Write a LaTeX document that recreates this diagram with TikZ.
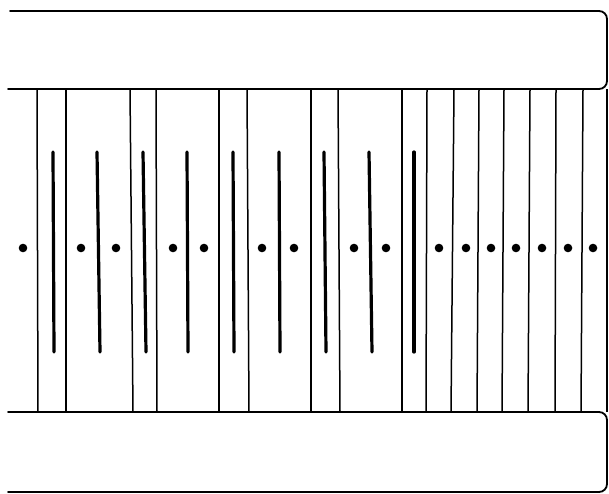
\documentclass[tikz,border=0pt]{standalone}
\begin{document}
\begin{tikzpicture}[x=1pt,y=-1pt,
  frame/.style={line width=1.8pt,line cap=round,rounded corners=8pt},
  divider/.style={line width=1.5pt},
  rodbar/.style={line width=3.2pt,line cap=round},
  dotmark/.style={fill=black}]
\useasboundingbox (0,0) rectangle (609,494);
% top band
\draw[frame] (10,11) -- (607,11) -- (607,89) -- (8,89);
% right side of middle section
\draw[line width=1.8pt] (607,89) -- (607,412);
% bottom band
\draw[frame] (8,412) -- (607,412) -- (607,492) -- (8,492);
% vertical dividers
\foreach \a/\b in {37/38,66/66,130/133,156/157,219/219,247/249,311/311,338/340,402/402,427/426,454/451,479/477,504/502,530/528,556/555,583/581}
  \draw[divider] (\a,89) -- (\b,412);
% bars
\foreach \a/\b in {53/54,97/100,143/146,187/188,233/234,279/280,324/326,369/372,414/414}
  \draw[rodbar] (\a,152) -- (\b,352);
% dots
\foreach \x in {23,81,116,173,204,262,294,354,386,439,466,491,516,542,568,593}
  \fill[dotmark] (\x,248) circle[radius=4.3];
\end{tikzpicture}
\end{document}
